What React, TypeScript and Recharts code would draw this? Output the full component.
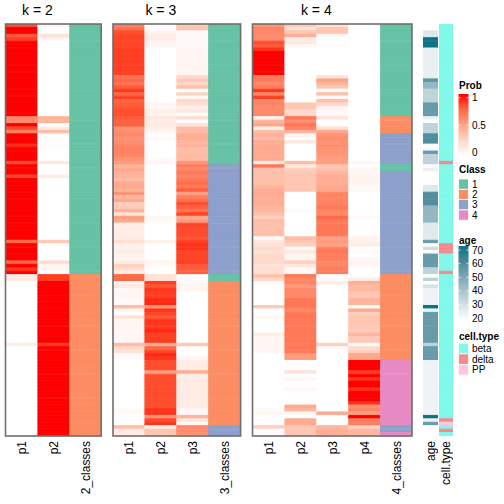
import React from 'react';
import { BarChart, Bar, XAxis, YAxis, Cell } from 'recharts';

// ---------------- data (120 rows, top to bottom) ----------------
const K2_P1 = [
  0.85,1,1,0.8,0.9,1,1,1,1,1,
  1,1,1,1,1,1,1,1,1,1,
  1,1,1,1,1,1,1,0.6,0.6,1,
  0.85,0.65,1,1,1,0.95,1,1,1,1,
  0.85,1,1,1,0.88,1,1,1,1,1,
  1,1,1,1,1,1,1,1,1,1,
  1,1,1,0.75,1,1,1,1,1,0.75,
  1,0.92,1,0.1,0.1,0,0,0,0,0,
  0,0,0,0,0,0,0,0,0,0,
  0,0,0,0.1,0,0,0,0,0,0,
  0,0,0,0,0,0,0,0,0,0,
  0,0,0,0,0,0,0,0,0,0,
];
const K2_P2 = [
  0.05,0,0,0.15,0.05,0,0,0,0,0,
  0,0,0,0,0,0,0,0,0,0,
  0,0,0,0,0,0,0,0.4,0.4,0,
  0.12,0.35,0,0,0,0.02,0,0,0,0,
  0.12,0,0,0,0.1,0,0,0,0,0,
  0,0,0,0,0,0,0,0,0,0,
  0,0,0,0.28,0,0,0,0,0,0.18,
  0.05,0.05,0,0.9,0.9,1,1,1,1,1,
  1,1,1,1,1,1,1,1,1,1,
  1,1,1,0.9,1,1,1,1,1,1,
  1,1,1,1,1,1,1,1,1,1,
  1,1,1,1,1,1,1,1,1,1,
];
const K2_CL = [
  1,1,1,1,1,1,1,1,1,1,
  1,1,1,1,1,1,1,1,1,1,
  1,1,1,1,1,1,1,1,1,1,
  1,1,1,1,1,1,1,1,1,1,
  1,1,1,1,1,1,1,1,1,1,
  1,1,1,1,1,1,1,1,1,1,
  1,1,1,1,1,1,1,1,1,1,
  1,1,1,2,2,2,2,2,2,2,
  2,2,2,2,2,2,2,2,2,2,
  2,2,2,2,2,2,2,2,2,2,
  2,2,2,2,2,2,2,2,2,2,
  2,2,2,2,2,2,2,2,2,2,
];

const K3_P1 = [
  0.65,0.7,0.85,0.88,0.88,0.88,0.88,0.9,0.9,0.9,
  0.9,0.9,0.9,0.9,0.9,0.7,0.75,0.7,0.8,0.92,
  0.75,0.9,0.75,0.8,0.82,0.85,0.85,0.8,0.78,0.78,
  0.55,0.58,0.6,0.55,0.58,0.62,0.63,0.63,0.62,0.55,
  0.52,0.4,0.45,0.4,0.4,0.35,0.43,0.45,0.4,0.55,
  0.36,0.45,0.27,0.27,0.4,0.15,0.5,0.45,0.08,0.1,
  0.1,0.1,0.1,0.18,0.07,0.07,0.1,0.06,0.06,0.1,
  0.25,0.18,0.1,0.75,0.75,0.05,0.1,0.03,0.05,0.05,
  0.03,0.03,0.35,0.05,0,0.14,0.05,0.05,0.05,0.03,
  0.04,0.04,0.04,0.35,0.2,0.15,0.03,0.03,0,0,
  0,0,0,0,0,0,0,0,0,0,
  0,0,0.03,0.03,0,0,0,0.35,0.12,0.1,
];
const K3_P2 = [
  0,0.02,0.05,0.1,0.1,0.05,0.05,0,0,0,
  0,0,0,0,0,0,0,0,0,0,
  0,0,0,0.06,0.03,0.08,0.06,0.12,0.1,0.11,
  0.08,0.05,0,0.03,0,0,0,0,0,0.02,
  0.05,0,0,0,0,0,0,0,0,0,
  0,0,0,0,0,0,0.05,0.03,0,0,
  0,0,0,0.08,0,0,0,0,0,0.05,
  0.03,0,0,0.15,0.15,0.9,0.82,0.92,0.9,0.9,
  0.95,0.95,0.55,0.92,0.88,0.8,0.92,0.92,0.92,0.95,
  0.9,0.9,0.9,0.42,0.75,0.88,0.95,0.92,0.85,0.85,
  0.85,0.5,0.85,0.85,0.85,0.85,0.85,0.85,0.85,0.85,
  0.85,0.85,0.92,0.92,0.55,0.85,0.92,0.08,0.3,0.3,
];
const K3_P3 = [
  0.3,0.3,0.02,0.03,0.03,0.03,0.03,0.05,0.05,0.05,
  0.05,0.05,0.05,0.05,0.05,0.2,0.28,0.22,0.32,0,
  0.22,0.04,0.2,0.16,0.08,0.12,0,0.18,0,0.14,
  0.35,0.35,0.42,0.42,0.38,0.4,0.35,0.35,0.36,0.35,
  0.55,0.65,0.62,0.68,0.62,0.68,0.72,0.68,0.78,0.5,
  0.65,0.72,0.85,0.78,0.7,0.87,0.45,0.5,0.88,0.86,
  0.86,0.86,0.82,0.9,0.93,0.93,0.88,0.88,0.88,0.9,
  0.8,0.8,0.78,0.02,0.02,0.04,0.05,0.05,0,0,
  0,0,0,0,0,0,0,0,0,0,
  0,0,0,0.3,0,0,0,0.04,0.1,0.1,
  0.1,0.42,0.1,0.1,0.1,0.1,0.1,0.1,0.1,0.1,
  0.1,0.1,0.04,0.04,0.4,0.12,0.05,0.6,0.6,0.55,
];
const K3_CL = [
  1,1,1,1,1,1,1,1,1,1,
  1,1,1,1,1,1,1,1,1,1,
  1,1,1,1,1,1,1,1,1,1,
  1,1,1,1,1,1,1,1,1,1,
  1,3,3,3,3,3,3,3,3,3,
  3,3,3,3,3,3,3,3,3,3,
  3,3,3,3,3,3,3,3,3,3,
  3,3,3,1,1,2,2,2,2,2,
  2,2,2,2,2,2,2,2,2,2,
  2,2,2,2,2,2,2,2,2,2,
  2,2,2,2,2,2,2,2,2,2,
  2,2,2,2,2,2,2,3,3,3,
];

const K4_P1 = [
  0.55,0.62,0.6,0.6,0.58,0.85,0.8,0.93,1,1,
  1,1,1,1,1,0.68,0.65,0.6,0.65,0.92,
  0.62,0.9,0.6,0.62,0.58,0.6,0.6,0.06,0.4,0.45,
  0.08,0.35,0.4,0.36,0.42,0.44,0.44,0.44,0.42,0.44,
  0.1,0.68,0.33,0.33,0.33,0.33,0.33,0.38,0.42,0.44,
  0.42,0.42,0.42,0.38,0.38,0.33,0.25,0.35,0.33,0.33,
  0.33,0.33,0.02,0.12,0.15,0.2,0.15,0.2,0.2,0.2,
  0.15,0.17,0.17,0.33,0.2,0.04,0,0,0,0,
  0,0,0.28,0,0,0.04,0,0,0,0,
  0.1,0.04,0.04,0.05,0.05,0.04,0,0,0,0,
  0,0,0,0,0,0,0,0,0,0,
  0,0,0.03,0.04,0,0,0,0.25,0.03,0.02,
];
const K4_P2 = [
  0.28,0.15,0.3,0.42,0.1,0.12,0.05,0,0,0,
  0,0,0,0,0,0,0,0,0,0,
  0,0,0,0.3,0.3,0.2,0.2,0.68,0.58,0.68,
  0.62,0.4,0.05,0,0.12,0,0,0,0,0,
  0.35,0.12,0.25,0.3,0.3,0.3,0.3,0.3,0.3,0,
  0,0,0,0,0.03,0,0,0,0,0,
  0,0,0.35,0.3,0.25,0.02,0.12,0.05,0.06,0.25,
  0.12,0.04,0.04,0.68,0.6,0.62,0.52,0.6,0.6,0.6,
  0.68,0.68,0.68,0.6,0.68,0.68,0.68,0.68,0.68,0.68,
  0.68,0.68,0.68,0.65,0.68,0.68,0.52,0.52,0,0,
  0,0.15,0,0.04,0,0,0.04,0,0,0,
  0,0.44,0.38,0.04,0,0.44,0.44,0.3,0.3,0.3,
];
const K4_P3 = [
  0.15,0.3,0.3,0.03,0,0,0.02,0,0,0,
  0,0,0,0,0,0.15,0.48,0.38,0.3,0,
  0.33,0.04,0.33,0.2,0.06,0.04,0.02,0.14,0,0,
  0.18,0.45,0.55,0.58,0.55,0.58,0.55,0.55,0.52,0.5,
  0.5,0.3,0.33,0.38,0.42,0.42,0.42,0.45,0.45,0.62,
  0.62,0.62,0.62,0.68,0.62,0.6,0.75,0.68,0.68,0.68,
  0.68,0.68,0.48,0.52,0.48,0.65,0.68,0.65,0.65,0.6,
  0.62,0.65,0.65,0,0.02,0.1,0,0,0,0,
  0,0,0,0,0,0,0,0,0,0,
  0,0,0,0.25,0.02,0,0,0,0,0,
  0,0,0,0,0,0,0,0,0,0,
  0,0,0,0.44,0,0,0,0.38,0.42,0.42,
];
const K4_P4 = [
  0,0,0,0,0,0,0,0,0,0,
  0,0,0,0,0,0,0,0,0,0,
  0,0,0,0,0,0,0,0,0,0,
  0,0,0,0,0,0,0,0,0,0,
  0.04,0,0.05,0.04,0.06,0.06,0.06,0.03,0.03,0,
  0,0,0,0,0,0,0.03,0,0,0,
  0,0,0.06,0.08,0.1,0,0.03,0,0.04,0.06,
  0.04,0,0,0,0.1,0.42,0.35,0.38,0.3,0.3,
  0.4,0.38,0.02,0.44,0.25,0.3,0.3,0.3,0.3,0.25,
  0.38,0.28,0.28,0.02,0.2,0.25,0.45,0.45,1,1,
  1,0.9,1,0.93,1,1,0.93,1,1,1,
  0.93,0.55,0.62,0.48,1,0.65,0.65,0.25,0.38,0.38,
];
const K4_CL = [
  1,1,1,1,1,1,1,1,1,1,
  1,1,1,1,1,1,1,1,1,1,
  1,1,1,1,1,1,1,2,2,2,
  2,2,3,3,3,3,3,3,3,3,
  3,1,1,3,3,3,3,3,3,3,
  3,3,3,3,3,3,3,3,3,3,
  3,3,3,3,3,3,3,3,3,3,
  3,3,3,2,2,2,2,2,2,2,
  2,2,2,2,2,2,2,2,2,2,
  2,2,2,2,2,2,2,2,4,4,
  4,4,4,4,4,4,4,4,4,4,
  4,4,4,4,4,4,4,3,3,4,
];

const AGE: (number | null)[] = [
  null,null,28,28,70,70,70,25,25,25,
  25,25,25,25,25,25,57,45,45,35,
  35,35,35,55,55,55,55,25,21,35,
  35,35,60,60,60,21,21,55,35,35,
  35,null,25,null,null,null,null,28,28,60,
  60,60,60,45,45,45,45,45,27,27,
  27,27,27,55,null,32,null,55,55,55,
  55,35,35,null,35,null,30,24,24,24,
  24,24,70,24,55,55,55,55,55,55,
  55,55,55,35,55,55,55,55,24,24,
  24,24,24,24,24,24,24,24,24,24,
  24,24,24,24,70,24,55,null,null,null,
];

const CELL_TYPE = [
  'beta','beta','beta','beta','beta','beta','beta','beta','beta','beta',
  'beta','beta','beta','beta','beta','beta','beta','beta','beta','beta',
  'beta','beta','beta','beta','beta','beta','beta','beta','beta','beta',
  'beta','beta','beta','beta','beta','beta','beta','beta','beta','beta',
  'delta','beta','beta','beta','beta','beta','beta','beta','beta','beta',
  'beta','beta','beta','beta','beta','beta','beta','beta','beta','beta',
  'beta','beta','beta','beta','delta','delta','delta','beta','beta','beta',
  'beta','beta','delta','beta','beta','beta','beta','beta','beta','beta',
  'beta','beta','beta','beta','beta','beta','beta','beta','beta','beta',
  'beta','beta','beta','beta','beta','beta','beta','beta','beta','beta',
  'beta','beta','beta','beta','beta','beta','beta','beta','beta','beta',
  'beta','beta','beta','beta','beta','delta','PP','beta','delta','beta',
];

const PROB_TICKS = [1, 0.5, 0];
const CLASS_LEVELS = [1, 2, 3, 4];
const AGE_TICKS = [70, 60, 50, 40, 30, 20];
const CELL_LEVELS = ['beta', 'delta', 'PP'];

// ---------------- styling ----------------
const FONT = '"Liberation Sans", Arial, Helvetica, sans-serif';
const CLASS_COLORS: Record<number, string> = { 1: '#66C2A5', 2: '#FC8D62', 3: '#8DA0CB', 4: '#E78AC3' };
const CELL_COLORS: Record<string, string> = { beta: '#80F9EA', delta: '#F38B8D', PP: '#FDC6E0' };

function toLin(c: number) { c /= 255; return c <= 0.04045 ? c / 12.92 : Math.pow((c + 0.055) / 1.055, 2.4); }
function toSrgb(c: number) {
  const v = c <= 0.0031308 ? 12.92 * c : 1.055 * Math.pow(c, 1 / 2.4) - 0.055;
  return Math.round(Math.max(0, Math.min(1, v)) * 255);
}
function hexToLab(hex: string) {
  const r = toLin(parseInt(hex.slice(1, 3), 16));
  const g = toLin(parseInt(hex.slice(3, 5), 16));
  const b = toLin(parseInt(hex.slice(5, 7), 16));
  const X = (0.4124 * r + 0.3576 * g + 0.1805 * b) / 0.95047;
  const Y = 0.2126 * r + 0.7152 * g + 0.0722 * b;
  const Z = (0.0193 * r + 0.1192 * g + 0.9505 * b) / 1.08883;
  const f = (t: number) => (t > 0.008856 ? Math.cbrt(t) : 7.787 * t + 16 / 116);
  const fx = f(X), fy = f(Y), fz = f(Z);
  return [116 * fy - 16, 500 * (fx - fy), 200 * (fy - fz)];
}
function labToHex(L: number, a: number, b: number) {
  const fy = (L + 16) / 116, fx = fy + a / 500, fz = fy - b / 200;
  const finv = (t: number) => (t * t * t > 0.008856 ? t * t * t : (t - 16 / 116) / 7.787);
  const X = 0.95047 * finv(fx), Y = finv(fy), Z = 1.08883 * finv(fz);
  const r = 3.2406 * X - 1.5372 * Y - 0.4986 * Z;
  const g = -0.9689 * X + 1.8758 * Y + 0.0415 * Z;
  const bb = 0.0557 * X - 0.204 * Y + 1.057 * Z;
  const h = (n: number) => toSrgb(n).toString(16).padStart(2, '0');
  return '#' + h(r) + h(g) + h(bb);
}
function mixLab(c1: string, c2: string, t: number) {
  const a = hexToLab(c1), b = hexToLab(c2);
  const u = Math.max(0, Math.min(1, t));
  return labToHex(a[0] + (b[0] - a[0]) * u, a[1] + (b[1] - a[1]) * u, a[2] + (b[2] - a[2]) * u);
}
const probColor = (v: number) => mixLab('#FFFFFF', '#FF0000', v);
const ageColor = (v: number | null) => (v == null ? '#FFFFFF' : mixLab('#FFFFFF', '#0E7387', (v - 20) / 50));

// ---------------- layout ----------------
const HM_TOP = 24;
const HM_H = 412;
const COL_W = 31.9;
const AXIS_H = 72;
const ROW_H = HM_H / CELL_TYPE.length;

type Col = { label: string; fills: string[] };

function Panel({ left, colW, cols, fontSize }: { left: number; colW: number; cols: Col[]; fontSize: number }) {
  const n = cols.length;
  const data = CELL_TYPE.map((_, i) => {
    const o: Record<string, number> = { row: i };
    cols.forEach((__, j) => { o['c' + j] = 1; });
    return o;
  });
  const renderTick = (p: any) => {
    const idx = Math.floor(p.payload.value);
    return (
      <text
        x={0}
        y={0}
        transform={`translate(${p.x},${p.y}) rotate(-90)`}
        textAnchor="end"
        dy="0.35em"
        fontSize={fontSize}
        fontFamily={FONT}
        fill="#000"
      >
        {cols[idx] ? cols[idx].label : ''}
      </text>
    );
  };
  return (
    <div style={{ position: 'absolute', left, top: HM_TOP }}>
      <BarChart
        width={n * colW}
        height={HM_H + AXIS_H}
        data={data}
        layout="vertical"
        margin={{ top: 0, right: 0, bottom: 0, left: 0 }}
        barCategoryGap={0}
        barGap={0}
        barSize={ROW_H}
      >
        <YAxis type="category" dataKey="row" hide />
        <XAxis
          type="number"
          domain={[0, n]}
          ticks={cols.map((_, j) => j + 0.5)}
          interval={0}
          tick={renderTick}
          tickLine={false}
          axisLine={false}
          tickSize={0}
          tickMargin={5}
          height={AXIS_H}
        />
        {cols.map((c, j) => (
          <Bar key={j} dataKey={'c' + j} stackId="s" isAnimationActive={false}>
            {c.fills.map((f, i) => (
              <Cell key={i} fill={f} stroke={f} strokeWidth={1} />
            ))}
          </Bar>
        ))}
      </BarChart>
    </div>
  );
}

const P1_LEFT = 5.5;
const P2_LEFT = 113;
const P3_LEFT = 252.5;

export default function App() {
  const panel1: Col[] = [
    { label: 'p1', fills: K2_P1.map(probColor) },
    { label: 'p2', fills: K2_P2.map(probColor) },
    { label: '2_classes', fills: K2_CL.map((c) => CLASS_COLORS[c]) },
  ];
  const panel2: Col[] = [
    { label: 'p1', fills: K3_P1.map(probColor) },
    { label: 'p2', fills: K3_P2.map(probColor) },
    { label: 'p3', fills: K3_P3.map(probColor) },
    { label: '3_classes', fills: K3_CL.map((c) => CLASS_COLORS[c]) },
  ];
  const panel3: Col[] = [
    { label: 'p1', fills: K4_P1.map(probColor) },
    { label: 'p2', fills: K4_P2.map(probColor) },
    { label: 'p3', fills: K4_P3.map(probColor) },
    { label: 'p4', fills: K4_P4.map(probColor) },
    { label: '4_classes', fills: K4_CL.map((c) => CLASS_COLORS[c]) },
  ];
  const ageCol: Col[] = [{ label: 'age', fills: AGE.map(ageColor) }];
  const cellCol: Col[] = [{ label: 'cell.type', fills: CELL_TYPE.map((c) => CELL_COLORS[c]) }];

  const panels = [
    { left: P1_LEFT, n: 3, title: 'k = 2' },
    { left: P2_LEFT, n: 4, title: 'k = 3' },
    { left: P3_LEFT, n: 5, title: 'k = 4' },
  ];

  const LX = 458.5; // legend x
  const LW = 10;
  const probY = (v: number) => 152.3 - v * 54.6;
  const ageY = (v: number) => 250 + (70 - v) * 1.366;
  const probStops = [0, 0.25, 0.5, 0.75, 1];
  const ageStops = [0, 0.2, 0.4, 0.6, 0.8, 1];

  return (
    <div style={{ position: 'absolute', left: 0, top: 0, width: 504, height: 504, background: '#fff', overflow: 'hidden' }}>
      <Panel left={P1_LEFT} colW={COL_W} cols={panel1} fontSize={12} />
      <Panel left={P2_LEFT} colW={COL_W} cols={panel2} fontSize={12} />
      <Panel left={P3_LEFT} colW={COL_W} cols={panel3} fontSize={12} />
      <Panel left={423} colW={15} cols={ageCol} fontSize={12} />
      <Panel left={439} colW={14.3} cols={cellCol} fontSize={12} />
      <svg width={504} height={504} style={{ position: 'absolute', left: 0, top: 0, pointerEvents: 'none' }} fontFamily={FONT}>
        <defs>
          <linearGradient id="probGrad" x1="0" y1="1" x2="0" y2="0">
            {probStops.map((s) => (
              <stop key={s} offset={s} stopColor={probColor(s * 1.07 - 0.05)} />
            ))}
          </linearGradient>
          <linearGradient id="ageGrad" x1="0" y1="1" x2="0" y2="0">
            {ageStops.map((s) => (
              <stop key={s} offset={s} stopColor={ageColor(19 + s * 54)} />
            ))}
          </linearGradient>
        </defs>
        {panels.map((p) => (
          <g key={p.title}>
            <rect x={p.left} y={HM_TOP} width={p.n * COL_W} height={HM_H} fill="none" stroke="#6f6f6f" strokeWidth={1.6} />
            <text x={p.left + ((p.n - 1) * COL_W) / 2} y={15} textAnchor="middle" fontSize={14} fill="#000">
              {p.title}
            </text>
          </g>
        ))}

        {/* Prob legend */}
        <text x={459} y={88.5} fontSize={10} fontWeight="bold" fill="#000">Prob</text>
        <rect x={LX} y={94} width={LW} height={61} fill="url(#probGrad)" />
        {PROB_TICKS.map((t) => (
          <g key={t}>
            {t > 0 && <line x1={LX} x2={LX + 2} y1={probY(t)} y2={probY(t)} stroke="#fff" strokeWidth={0.8} />}
            {t > 0 && <line x1={LX + LW - 2} x2={LX + LW} y1={probY(t)} y2={probY(t)} stroke="#fff" strokeWidth={0.8} />}
            <text x={472} y={probY(t)} dy="0.35em" fontSize={10} fill="#000">{String(t)}</text>
          </g>
        ))}

        {/* Class legend */}
        <text x={459} y={172.5} fontSize={10} fontWeight="bold" fill="#000">Class</text>
        {CLASS_LEVELS.map((c, i) => (
          <g key={c}>
            <rect x={LX} y={179 + i * 10.3} width={LW} height={10.3} fill={CLASS_COLORS[c]} stroke="#fff" strokeWidth={0.8} />
            <text x={472} y={179 + i * 10.3 + 5.3} dy="0.35em" fontSize={10} fill="#000">{String(c)}</text>
          </g>
        ))}

        {/* age legend */}
        <text x={459} y={243.5} fontSize={10} fontWeight="bold" fill="#000">age</text>
        <rect x={LX} y={246} width={LW} height={74} fill="url(#ageGrad)" />
        {AGE_TICKS.map((t) => (
          <g key={t}>
            <line x1={LX} x2={LX + 2} y1={ageY(t)} y2={ageY(t)} stroke="#fff" strokeWidth={0.8} />
            <line x1={LX + LW - 2} x2={LX + LW} y1={ageY(t)} y2={ageY(t)} stroke="#fff" strokeWidth={0.8} />
            <text x={472} y={ageY(t)} dy="0.35em" fontSize={10} fill="#000">{String(t)}</text>
          </g>
        ))}

        {/* cell.type legend */}
        <text x={459} y={339.5} fontSize={10} fontWeight="bold" fill="#000">cell.type</text>
        {CELL_LEVELS.map((c, i) => (
          <g key={c}>
            <rect x={LX} y={343.3 + i * 10.6} width={LW} height={10.6} fill={CELL_COLORS[c]} stroke="#fff" strokeWidth={0.8} />
            <text x={472} y={343.3 + i * 10.6 + 5.4} dy="0.35em" fontSize={10} fill="#000">{c}</text>
          </g>
        ))}
      </svg>
    </div>
  );
}
